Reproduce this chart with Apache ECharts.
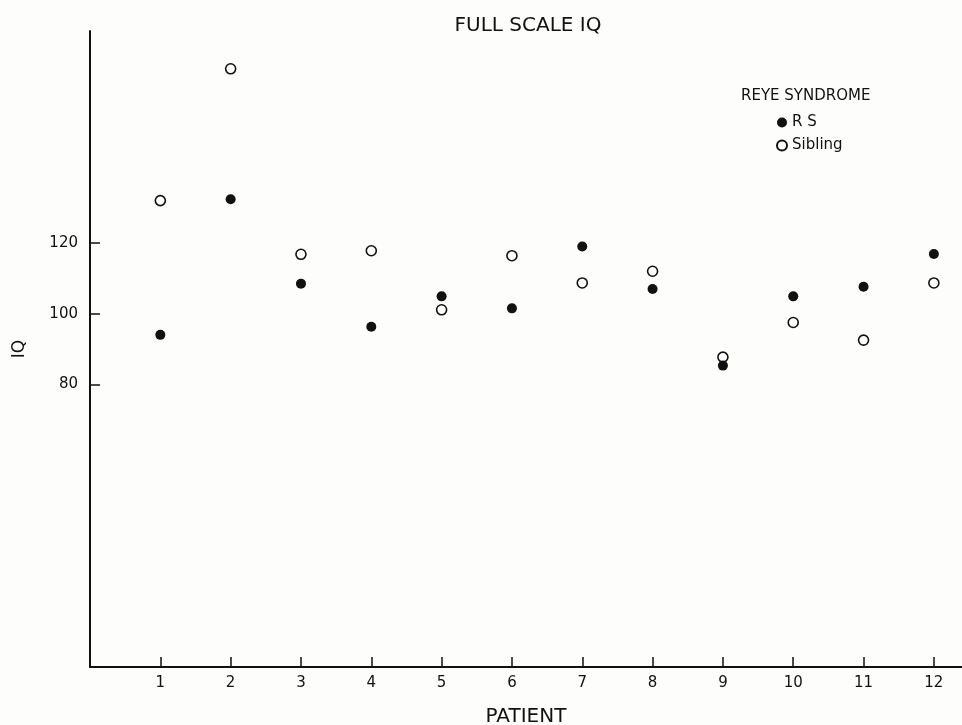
<!DOCTYPE html>
<html>
<head>
<meta charset="utf-8">
<script src="https://cdn.jsdelivr.net/npm/echarts@6/dist/echarts.min.js"></script>
<style>
  html, body { margin: 0; padding: 0; background: #fdfdfc; }
  #chart { width: 962px; height: 725px; }
</style>
</head>
<body>
<div id="chart"></div>
<script>
// patient numbers on the x axis
const patients = [1, 2, 3, 4, 5, 6, 7, 8, 9, 10, 11, 12];
// full scale IQ, Reye syndrome patient (filled dots)
const rsIQ = [94, 132.4, 108.5, 96.3, 104.9, 101.5, 119, 107, 85.3, 104.9, 107.6, 116.9];
// full scale IQ, matched sibling (open circles)
const siblingIQ = [132, 169.3, 116.8, 117.8, 101.1, 116.4, 108.7, 112, 87.7, 97.5, 92.5, 108.7];
// labelled y ticks
const yTicks = [80, 100, 120];

const font = "DejaVu Sans";
const ink = "#111";

const chart = echarts.init(document.getElementById("chart"));

const option = {
  backgroundColor: "#fdfdfc",
  animation: false,
  title: [
    {
      text: "FULL SCALE IQ",
      left: 523,
      top: 11,
      textAlign: "center",
      textStyle: { fontFamily: font, fontSize: 20, fontWeight: "normal", color: ink },
    },
    {
      text: "REYE SYNDROME",
      left: 736,
      top: 84,
      textStyle: { fontFamily: font, fontSize: 15, fontWeight: "normal", color: ink },
    },
  ],
  legend: {
    orient: "vertical",
    left: 771,
    top: 110,
    itemGap: 8,
    itemWidth: 10,
    itemHeight: 10,
    data: ["R S", "Sibling"],
    textStyle: { fontFamily: font, fontSize: 15, color: ink },
  },
  grid: { left: 90, right: 0, top: 31, bottom: 58, outerBoundsMode: "none", containLabel: false },
  xAxis: {
    type: "value",
    min: 0,
    max: 12.4,
    interval: 1,
    name: "PATIENT",
    nameLocation: "middle",
    nameGap: 40,
    nameTextStyle: { fontFamily: font, fontSize: 20, color: ink },
    axisLine: { show: true, onZero: false, lineStyle: { color: ink, width: 2 } },
    axisTick: { show: true, inside: true, length: 10, customValues: patients, lineStyle: { color: ink, width: 1.5 } },
    axisLabel: {
      margin: 9,
      fontFamily: font,
      fontSize: 15,
      color: ink,
      customValues: patients,
    },
    splitLine: { show: false },
  },
  yAxis: {
    type: "value",
    min: 0,
    max: 180,
    name: "IQ",
    nameLocation: "middle",
    nameRotate: 90,
    nameGap: 62,
    nameTextStyle: { fontFamily: font, fontSize: 17, color: ink },
    axisLine: { show: true, lineStyle: { color: ink, width: 2 } },
    axisTick: { inside: true, length: 10, customValues: yTicks, lineStyle: { color: ink, width: 1.5 } },
    axisLabel: { customValues: yTicks, margin: 12, fontFamily: font, fontSize: 15, color: ink },
    splitLine: { show: false },
  },
  series: [
    {
      name: "Sibling",
      type: "scatter",
      symbol: "circle",
      symbolSize: 10,
      itemStyle: { color: "#fff", borderColor: ink, borderWidth: 1.6, opacity: 1 },
      data: patients.map((p, i) => [p, siblingIQ[i]]),
    },
    {
      name: "R S",
      type: "scatter",
      symbol: "circle",
      symbolSize: 10,
      itemStyle: { color: ink, opacity: 1 },
      data: patients.map((p, i) => [p, rsIQ[i]]),
    },
  ],
};

chart.setOption(option);
</script>
</body>
</html>
